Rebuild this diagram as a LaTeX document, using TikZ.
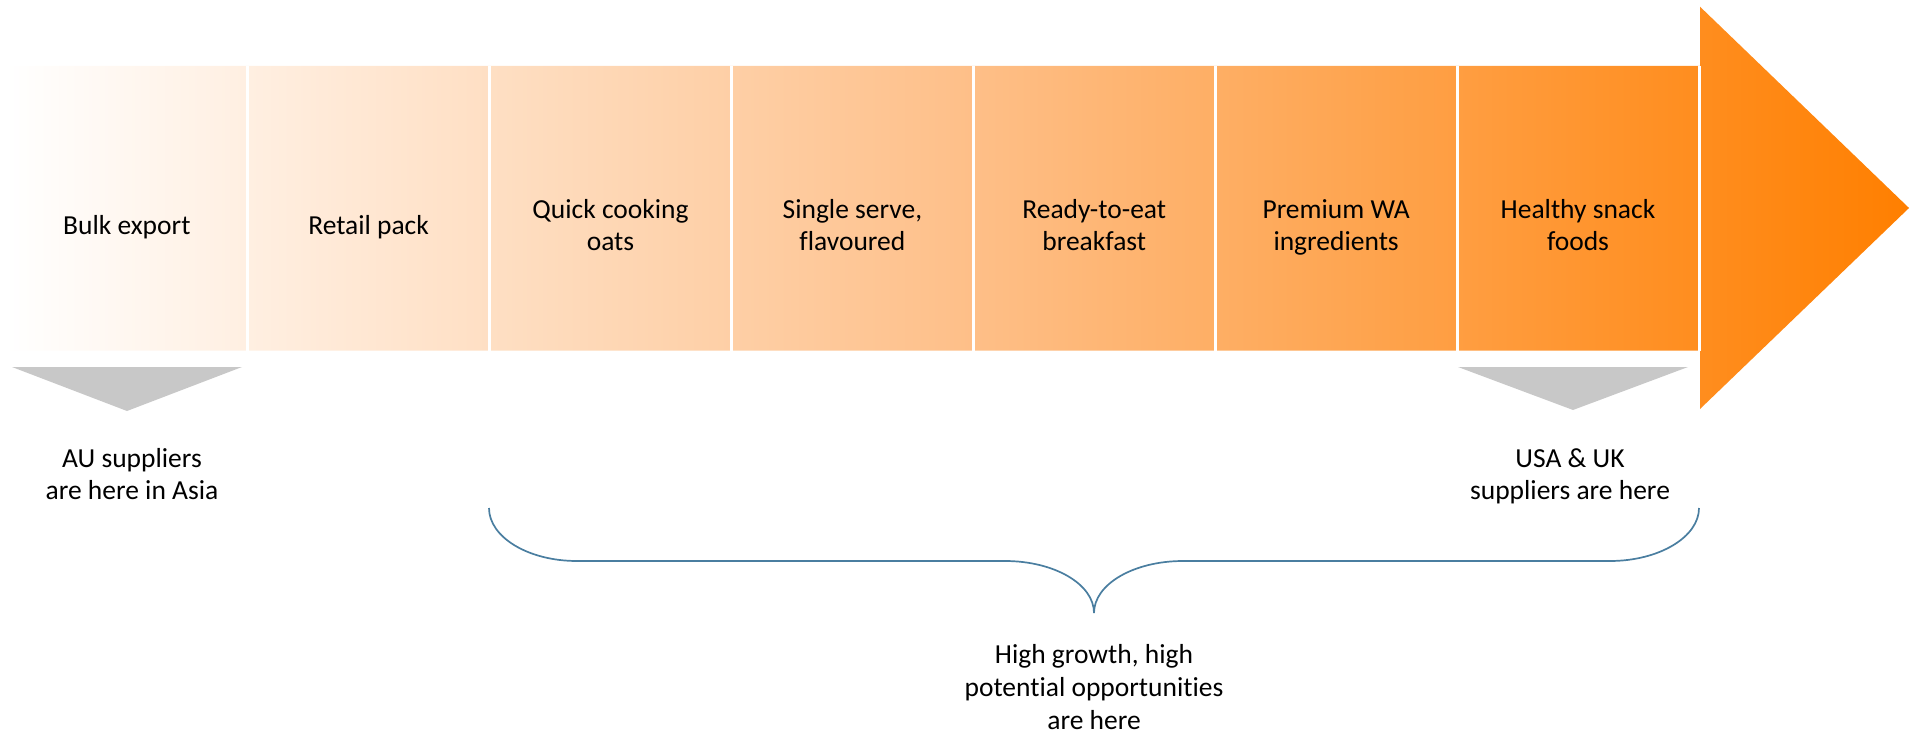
\documentclass[tikz,border=0pt]{standalone}
\usepackage{fontspec}
\setmainfont{Carlito}[Ligatures=NoCommon]
\definecolor{flowend}{RGB}{255,127,0}
\definecolor{flowmid}{RGB}{254,192,138}
\definecolor{pointergray}{RGB}{200,200,200}
\definecolor{braceblue}{RGB}{74,126,160}
\begin{document}
\begin{tikzpicture}[x=1pt,y=-1pt,
  lbl/.style={font=\fontsize{27.5}{32.7}\selectfont, align=center, anchor=base,
              inner sep=0pt, text=black},
  pointer/.style={fill=pointergray, draw=none},
  divider/.style={draw=white, line width=3pt},
  bracestyle/.style={draw=braceblue, line width=1.7pt}]
\useasboundingbox (0,0) rectangle (1921,735);

% value-chain arrow: body and head, shaded from white to orange
\path[left color=white, right color=flowend, middle color=flowmid]
  (6,66) -- (1700,66) -- (1700,6.7) -- (1909,208) -- (1700,409)
  -- (1700,350.7) -- (6,350.7) -- cycle;

% white gaps between the stages
\foreach \gx in {247.7,489.5,731.4,973.2,1215.1,1457,1699}
  \draw[divider] (\gx,66) -- (\gx,350.7);

% stage labels (anchored on the baseline of the last line)
\node[lbl] (c1) at (126.8,234.3) {Bulk export};
\node[lbl] (c2) at (368.6,234.3) {Retail pack};
\node[lbl] (c3) at (610.5,251) {Quick cooking\\oats};
\node[lbl] (c4) at (852.4,251) {Single serve,\\flavoured};
\node[lbl] (c5) at (1094.2,251) {Ready-to-eat\\breakfast};
\node[lbl] (c6) at (1336.1,251) {Premium WA\\ingredients};
\node[lbl] (c7) at (1578,251) {Healthy snack\\foods};

% grey pointers under the first and last stages
\fill[pointer] (12,367) -- (242,367) -- (127,411) -- cycle;
\fill[pointer] (1458,367) -- (1688,367) -- (1573,410) -- cycle;

\node[lbl] (au) at (132,499.7) {AU suppliers\\are here in Asia};
\node[lbl] (usuk) at (1570,499.7) {USA \& UK\\suppliers are here};

% curly brace under stages three to seven
\coordinate (bl) at (489,508);
\coordinate (bm) at (1094,613);
\coordinate (br) at (1699,508);
\draw[bracestyle] (bl) .. controls (489,537) and (528,561) .. (577,561)
  -- (1005,561) .. controls (1054,561) and (1094,584) .. (bm)
  .. controls (1094,584) and (1134,561) .. (1183,561)
  -- (1610,561) .. controls (1659,561) and (1699,537) .. (br);

\node[lbl] (opp) at (1094,729.3) {High growth, high\\potential opportunities\\are here};
\end{tikzpicture}
\end{document}
